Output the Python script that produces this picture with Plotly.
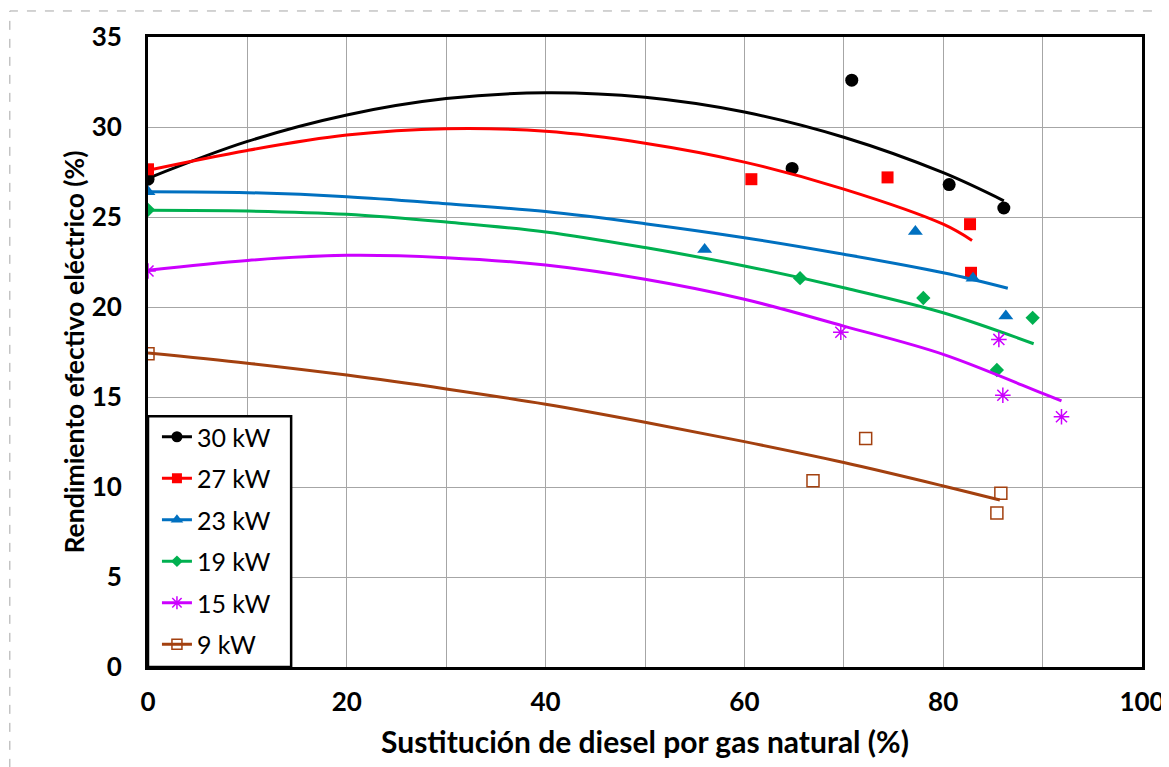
import plotly.graph_objects as go

# ---- data ----
series_names = ["30 kW", "27 kW", "23 kW", "19 kW", "15 kW", "9 kW"]

x_30 = [0, 64.8, 70.8, 80.6, 86.1]
y_30 = [27.1, 27.7, 32.6, 26.8, 25.5]
x_27 = [0, 60.7, 74.4, 82.7, 82.8]
y_27 = [27.65, 27.1, 27.2, 24.6, 21.9]
x_23 = [0, 56.0, 77.2, 83.0, 86.3]
y_23 = [26.4, 23.2, 24.2, 21.6, 19.5]
x_19 = [0, 65.6, 78.0, 85.4, 89.0]
y_19 = [25.4, 21.6, 20.5, 16.5, 19.4]
x_15 = [0, 69.7, 85.6, 86.0, 91.9]
y_15 = [22.0, 18.6, 18.2, 15.1, 13.9]
x_9 = [0, 66.9, 72.2, 85.8, 85.4]
y_9 = [17.4, 10.35, 12.7, 9.65, 8.55]

tx_30 = [0, 10, 20, 30, 40, 50, 60, 70, 80, 86.1]
ty_30 = [27.15, 29.2, 30.67, 31.58, 31.9, 31.65, 30.83, 29.43, 27.46, 25.9]
tx_27 = [0, 10, 20, 30, 40, 50, 60, 70, 80, 82.9]
ty_27 = [27.6, 28.7, 29.55, 29.9, 29.76, 29.1, 28.05, 26.55, 24.6, 23.7]
tx_23 = [0, 10, 20, 30, 40, 50, 60, 70, 80, 86.5]
ty_23 = [26.4, 26.35, 26.13, 25.74, 25.3, 24.63, 23.85, 22.93, 21.9, 21.04]
tx_19 = [0, 10, 20, 30, 40, 50, 60, 70, 80, 89.1]
ty_19 = [25.37, 25.33, 25.15, 24.72, 24.17, 23.3, 22.28, 21.07, 19.68, 17.96]
tx_15 = [0, 10, 20, 30, 40, 50, 60, 70, 80, 90, 91.9]
ty_15 = [22.04, 22.59, 22.87, 22.74, 22.33, 21.54, 20.43, 18.94, 17.37, 15.2, 14.78]
tx_9 = [0, 10, 20, 30, 40, 50, 60, 70, 80, 85.7]
ty_9 = [17.45, 16.88, 16.22, 15.45, 14.6, 13.6, 12.52, 11.36, 10.06, 9.28]

x_ticks = [0, 20, 40, 60, 80, 100]
y_ticks = [0, 5, 10, 15, 20, 25, 30, 35]

points = [(x_30, y_30), (x_27, y_27), (x_23, y_23), (x_19, y_19), (x_15, y_15), (x_9, y_9)]
curves = [(tx_30, ty_30), (tx_27, ty_27), (tx_23, ty_23), (tx_19, ty_19), (tx_15, ty_15), (tx_9, ty_9)]

colors = ["#000000", "#FF0000", "#0070C0", "#00B050", "#CC00FF", "#A3400F"]
symbols = ["circle", "square", "triangle-up", "diamond", "asterisk-open", "square-open"]
sizes = [13, 12, 13, 11, 13, 12]

fig = go.Figure()
for i, name in enumerate(series_names):
    cx, cy = curves[i]
    px, py = points[i]
    fig.add_trace(go.Scatter(x=cx, y=cy, mode="lines", line=dict(color=colors[i], width=3, shape="spline"),
                             showlegend=False, hoverinfo="skip"))
    marker = dict(color=colors[i], symbol=symbols[i], size=sizes[i],
                  line=dict(color=colors[i], width=1.5 if "open" in symbols[i] else 0))
    fig.add_trace(go.Scatter(x=px, y=py, mode="markers", marker=marker, showlegend=False, name=name))
    # legend entry
    fig.add_trace(go.Scatter(x=[None], y=[None], mode="lines+markers", name=name,
                             legendgroup=name,
                             line=dict(color=colors[i], width=3),
                             marker=dict(color=colors[i], symbol=symbols[i], size=sizes[i] - 2,
                                         line=dict(color=colors[i], width=1.5 if "open" in symbols[i] else 0))))

# outer dashed frame
fig.add_shape(type="rect", xref="paper", yref="paper", x0=-0.139, x1=1.02, y0=-0.2, y1=1.0413,
              line=dict(color="#A6A6A6", width=1, dash="dash"), fillcolor="rgba(0,0,0,0)", layer="below")
# legend box
fig.add_shape(type="rect", xref="paper", yref="paper", x0=0, x1=0.144, y0=0, y1=0.398,
              line=dict(color="black", width=2.5), fillcolor="white", layer="above")

fig.update_layout(
    width=1169, height=767,
    margin=dict(l=140, r=24, t=29, b=108),
    paper_bgcolor="white", plot_bgcolor="white",
    font=dict(family="Lato", color="black"),
    showlegend=True,
    legend=dict(x=0.009, y=0.0, xanchor="left", yanchor="bottom", bgcolor="rgba(0,0,0,0)",
                borderwidth=0, font=dict(size=25, family="Lato", color="black"),
                tracegroupgap=6, traceorder="grouped", itemwidth=30),
    xaxis=dict(range=[0, 100], tickvals=x_ticks, showgrid=True, gridcolor="#A6A6A6", gridwidth=1,
               minor=dict(dtick=10, showgrid=True, gridcolor="#A6A6A6", gridwidth=1),
               showline=True, linecolor="black", linewidth=3, mirror=True, zeroline=False,
               ticks="", ticklabelstandoff=10,
               tickfont=dict(size=26, family="Lato", color="black", weight="bold"),
               title=dict(text="Sustitución de diesel por gas natural (%)", standoff=16,
                          font=dict(size=30, family="Lato", color="black", weight="bold"))),
    yaxis=dict(range=[0, 35], tickvals=y_ticks, showgrid=True, gridcolor="#A6A6A6", gridwidth=1,
               showline=True, linecolor="black", linewidth=3, mirror=True, zeroline=False,
               ticks="", ticklabelstandoff=18,
               tickfont=dict(size=26, family="Lato", color="black", weight="bold"),
               title=dict(text="Rendimiento efectivo eléctrico (%)", standoff=0,
                          font=dict(size=26.5, family="Lato", color="black", weight="bold"))),
)

fig.write_html("out.html")
